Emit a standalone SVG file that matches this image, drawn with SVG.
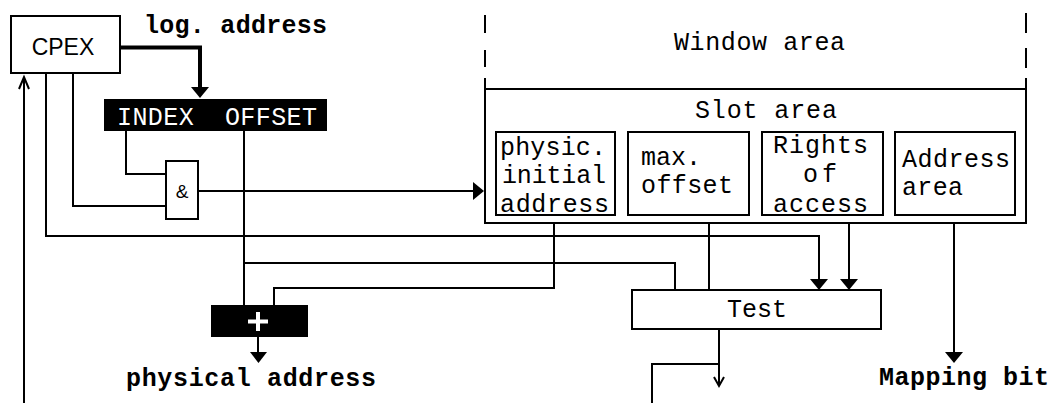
<svg xmlns="http://www.w3.org/2000/svg" width="1051" height="403" viewBox="0 0 1051 403">
<style>
.bx{fill:#fff;stroke:#000;stroke-width:2}
.blk{fill:#000;stroke:#000;stroke-width:2}
.ln{fill:none;stroke:#000;stroke-width:2}
.thk{fill:none;stroke:#000;stroke-width:4}
.ah{fill:#000;stroke:none}
.m{font-family:"Liberation Mono","DejaVu Sans Mono",monospace;font-size:25px;fill:#000}
.mb{font-family:"Liberation Mono","DejaVu Sans Mono",monospace;font-size:25px;font-weight:bold;fill:#000}
.s{font-family:"Liberation Sans",Arial,sans-serif;fill:#000}
.w{fill:#fff}
</style>
<rect width="1051" height="403" fill="#fff"/>
<g id="connectors">
<path class="thk" d="M120,47.5 H200 V88"/>
<polygon class="ah" points="191,87 209,87 200,98"/>
<path class="ln" d="M24,403 V77"/>
<polyline class="ln" points="19,89 24,77 29,89"/>
<path class="ln" d="M46,73 V236 H819 V280"/>
<polygon class="ah" points="810,279 828,279 819,290"/>
<path class="ln" d="M73,73 V206 H166"/>
<path class="ln" d="M126,130 V174 H166"/>
<path class="ln" d="M198,191 H474"/>
<polygon class="ah" points="473,182 473,200 484,191"/>
<path class="ln" d="M244,130 V306"/>
<path class="ln" d="M244,263 H675 V290"/>
<path class="ln" d="M554,215 V288 H274 V306"/>
<path class="ln" d="M709,215 V290"/>
<path class="ln" d="M849,215 V280"/>
<polygon class="ah" points="840,279 858,279 849,290"/>
<path class="ln" d="M954,223 V353"/>
<polygon class="ah" points="945,352 963,352 954,363"/>
<path class="ln" d="M258,337 V353"/>
<polygon class="ah" points="250,352 267,352 258.5,363"/>
<path class="ln" d="M719,329 V386"/>
<polyline class="ln" points="714,377 719,386 724,377"/>
<path class="ln" d="M719,364 H652 V403"/>
</g>
<g id="cpex">
<rect class="bx" x="11" y="16" width="109" height="57"/>
<text class="s" x="63" y="55" font-size="23" text-anchor="middle">CPEX</text>
</g>
<g id="log-address">
<text class="mb" x="144" y="33" font-size="26" textLength="183" lengthAdjust="spacing">log. address</text>
</g>
<g id="index-offset">
<rect class="blk" x="105" y="100" width="221" height="30"/>
<text class="m w" x="117" y="125" textLength="200" lengthAdjust="spacing" xml:space="preserve">INDEX  OFFSET</text>
</g>
<g id="and-gate">
<rect class="bx" x="166" y="161" width="32" height="58"/>
<text class="s" x="182" y="198" font-size="19" text-anchor="middle">&amp;</text>
</g>
<g id="window-area">
<path class="ln" d="M485,15 V33 M485,50 V67 M485,78 V89 M1026,13 V33 M1026,48 V68 M1026,78 V89"/>
<text class="m" x="674" y="50" textLength="171" lengthAdjust="spacing">Window area</text>
</g>
<g id="slot-area">
<rect class="bx" x="485" y="89" width="541" height="134"/>
<text class="m" x="695" y="118" textLength="142" lengthAdjust="spacing">Slot area</text>
</g>
<g id="physic">
<rect class="bx" x="496" y="132" width="119" height="83"/>
<text class="m" x="500" y="155" textLength="106" lengthAdjust="spacing">physic.</text>
<text class="m" x="502" y="183" textLength="104" lengthAdjust="spacing">initial</text>
<text class="m" x="500" y="212" textLength="109" lengthAdjust="spacing">address</text>
</g>
<g id="max-offset">
<rect class="bx" x="628" y="132" width="121" height="83"/>
<text class="m" x="641" y="165" textLength="60" lengthAdjust="spacing">max.</text>
<text class="m" x="641" y="193" textLength="92" lengthAdjust="spacing">offset</text>
</g>
<g id="rights">
<rect class="bx" x="762" y="132" width="121" height="83"/>
<text class="m" x="773" y="153" textLength="95" lengthAdjust="spacing">Rights</text>
<text class="m" x="803" y="182" textLength="34" lengthAdjust="spacing">of</text>
<text class="m" x="773" y="212" textLength="95" lengthAdjust="spacing">access</text>
</g>
<g id="address-area">
<rect class="bx" x="895" y="132" width="120" height="83"/>
<text class="m" x="902" y="167" textLength="108" lengthAdjust="spacing">Address</text>
<text class="m" x="902" y="195" textLength="61" lengthAdjust="spacing">area</text>
</g>
<g id="test">
<rect class="bx" x="632" y="290" width="249" height="39"/>
<text class="m" x="757" y="317" font-size="26" text-anchor="middle">Test</text>
</g>
<g id="adder">
<rect class="blk" x="212" y="306" width="95" height="30"/>
<path d="M248,321.5 H268 M258,312 V331" stroke="#fff" stroke-width="4" fill="none"/>
</g>
<g id="physical-address">
<text class="mb" x="126" y="386" textLength="250" lengthAdjust="spacing">physical address</text>
</g>
<g id="mapping-bit">
<text class="mb" x="879" y="385" textLength="170" lengthAdjust="spacing">Mapping bit</text>
</g>
</svg>
